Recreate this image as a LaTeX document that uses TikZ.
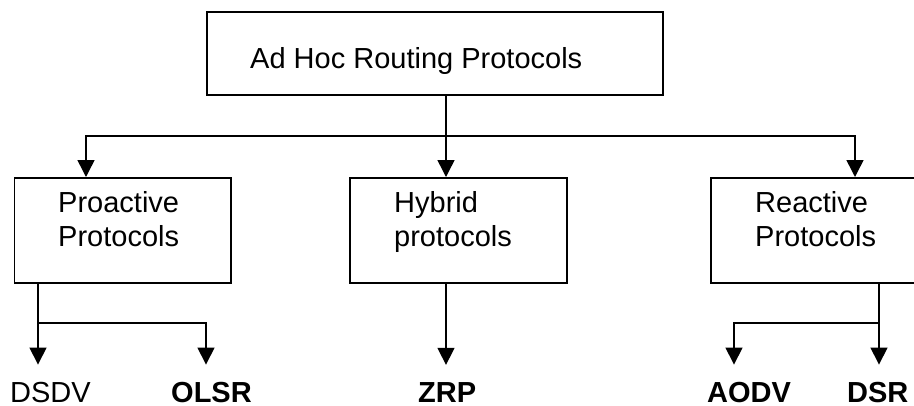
\documentclass[tikz,border=0pt]{standalone}
\usepackage{fontspec}
\setmainfont{Liberation Sans}
\usetikzlibrary{arrows.meta}
\begin{document}
\begin{tikzpicture}[x=1pt,y=-1pt,
  box/.style={draw, line width=1.5pt, inner sep=0pt, anchor=north west,
              minimum width=#1, minimum height=105pt},
  boxtext/.style={anchor=base west, inner sep=0pt, align=left,
                  font=\fontsize{29}{34}\selectfont},
  leaf/.style={anchor=base west, inner sep=0pt, font=\fontsize{29}{34}\selectfont},
  wire/.style={line width=1.5pt},
  arr/.style={wire, -{Triangle[width=17pt,length=17pt]}}]
\useasboundingbox (0,0) rectangle (914,405);
\begin{scope}
\clip (0,0) rectangle (914,405);

% boxes
\node[box=456pt, minimum height=83pt] (root) at (206,11) {};
\node[box=216.5pt] (pro) at (13.5,177) {};
\node[box=217pt]   (hyb) at (349,177) {};
\node[box=217pt]   (rea) at (710,177) {};

% box captions (base anchor sits on the last line)
\node[boxtext] (roott) at (250,68)  {Ad Hoc Routing Protocols};
\node[boxtext] (prot)  at (58,246)  {Proactive\\Protocols};
\node[boxtext] (hybt)  at (394,246) {Hybrid\\protocols};
\node[boxtext] (reat)  at (755,246) {Reactive\\Protocols};

% leaf protocols
\node[leaf] (dsdv) at (10,402)  {DSDV};
\node[leaf] (olsr) at (171,402) {\bfseries OLSR};
\node[leaf] (zrp)  at (418,402) {\bfseries ZRP};
\node[leaf] (aodv) at (707,402) {\bfseries AODV};
\node[leaf] (dsr)  at (847,402) {\bfseries DSR};

% junction points
\coordinate (hub) at (446,136);
\coordinate (pl)  at (86,136);
\coordinate (rl)  at (855,136);
\coordinate (pj)  at (38,323);
\coordinate (oj)  at (206,323);
\coordinate (rj)  at (879,323);
\coordinate (aj)  at (734,323);

% first level
\draw[wire] (root.south -| hub) -- (hub);
\draw[arr]  (hub) -- (pl) -- (pro.north -| pl);
\draw[arr]  (hub) -- (rl) -- (rea.north -| rl);
\draw[arr]  (hub) -- (hyb.north -| hub);

% second level
\draw[arr, shorten >=17pt] (pro.south -| pj) -- (dsdv.north -| pj);
\draw[arr, shorten >=17pt] (pj) -- (oj) -- (olsr.north -| oj);
\draw[arr, shorten >=17pt] (hyb.south -| hub) -- (zrp.north -| hub);
\draw[arr, shorten >=17pt] (rea.south -| rj) -- (dsr.north -| rj);
\draw[arr, shorten >=17pt] (rj) -- (aj) -- (aodv.north -| aj);
\end{scope}
\end{tikzpicture}
\end{document}
